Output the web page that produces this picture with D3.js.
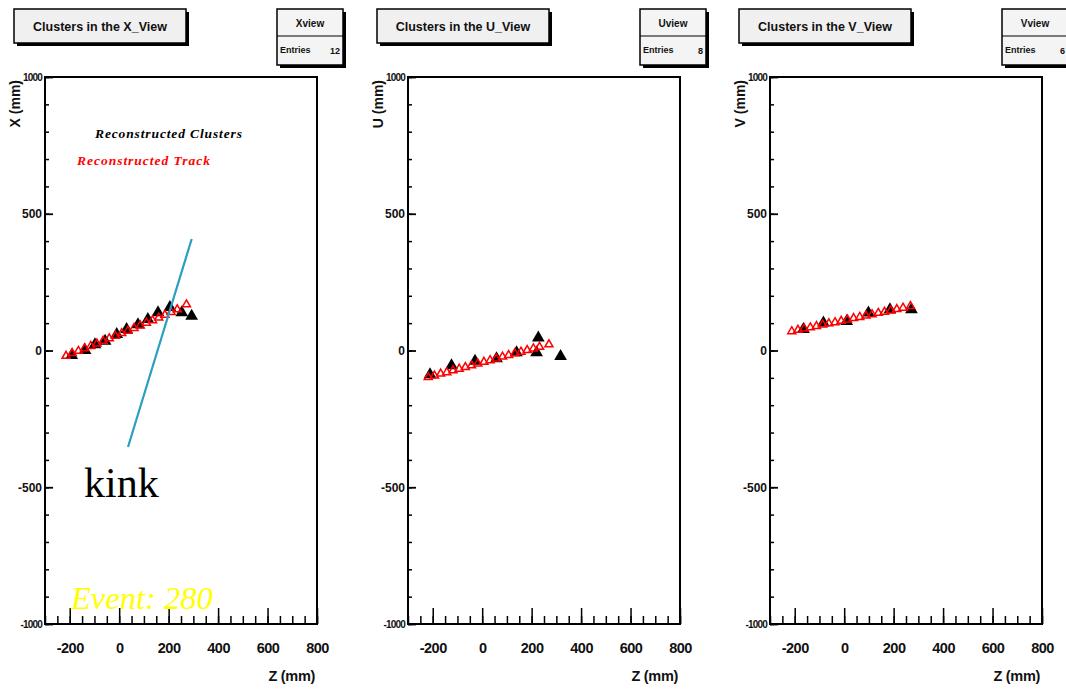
<!DOCTYPE html>
<html>
<head>
<meta charset="utf-8">
<script src="https://cdn.jsdelivr.net/npm/d3@7"></script>
<style>
  html, body { margin: 0; padding: 0; background: #fff; }
  svg { display: block; }
</style>
</head>
<body>
<svg id="chart" width="1066" height="689"></svg>
<script>
// ---------------- data ----------------
const views = ["X", "U", "V"];
const zTicks = [-200, 0, 200, 400, 600, 800];
const yTicks = [-1000, -500, 0, 500, 1000];

// X view
const xClusterZ = [-192, -138, -98, -57, -10, 30, 76, 116, 157, 205, 253, 293];
const xClusterV = [-18, 1, 22, 34, 59, 77, 95, 114, 139, 158, 139, 126];
const xTrackZ = [-215, -190, -165, -140, -115, -90, -65, -40, -15, 10, 35, 60, 85, 110, 135, 160, 185, 210, 235, 272];
const xTrackV = [-20, -10, -2, 8, 16, 25, 35, 44, 53, 63, 72, 82, 91, 101, 110, 120, 130, 140, 150, 168];

// U view
const uClusterZ = [-211, -124, -29, 58, 139, 227, 220, 317];
const uClusterV = [-88, -55, -39, -30, -8, 46, -8, -21];
const uTrackZ = [-218, -193, -168, -143, -118, -93, -68, -43, -18, 7, 32, 57, 82, 107, 132, 157, 182, 207, 232, 270];
const uTrackV = [-98, -92, -85, -80, -73, -67, -61, -55, -48, -42, -36, -30, -23, -17, -11, -5, 1, 7, 13, 22];

// V view
const vClusterZ = [-165, -84, 10, 98, 185, 272];
const vClusterV = [77, 101, 107, 138, 150, 150];
const vTrackZ = [-212, -187, -162, -137, -112, -87, -62, -37, -12, 13, 38, 63, 88, 113, 138, 163, 188, 213, 238, 268];
const vTrackV = [70, 75, 80, 84, 89, 94, 99, 103, 108, 113, 118, 122, 127, 132, 137, 141, 146, 151, 156, 162];

const clustersZ = [xClusterZ, uClusterZ, vClusterZ];
const clustersV = [xClusterV, uClusterV, vClusterV];
const trackZ = [xTrackZ, uTrackZ, vTrackZ];
const trackV = [xTrackV, uTrackV, vTrackV];

const legendLabels = ["Reconstructed Clusters", "Reconstructed Track"];
const eventLabel = "Event: 280";
const annotationLabel = "kink";

// ---------------- layout ----------------
const svg = d3.select("#chart");
const frameLefts = [45, 408, 770];
const frameW = 272;
const frameTop = 77, frameBottom = 624;
const SANS = "'Liberation Sans', Arial, Helvetica, sans-serif";
const SERIF = "'Liberation Serif', 'Times New Roman', serif";
const fmt = d => String(d);

views.forEach((v, i) => {
  const L = frameLefts[i];
  const g = svg.append("g");
  const x = d3.scaleLinear().domain([-300, 800]).range([L, L + frameW]);
  const y = d3.scaleLinear().domain([-1000, 1000]).range([frameBottom, frameTop]);

  // title box with shadow
  const tx = L - 31, ty = 9, tw = 172, th = 34;
  g.append("rect").attr("x", tx + 3).attr("y", ty + 3).attr("width", tw).attr("height", th).attr("fill", "#000");
  g.append("rect").attr("x", tx).attr("y", ty).attr("width", tw).attr("height", th)
    .attr("fill", "#f0f0f0").attr("stroke", "#000").attr("stroke-width", 1.5);
  g.append("text").attr("x", tx + tw / 2).attr("y", ty + 22).attr("text-anchor", "middle")
    .attr("font-family", SANS).attr("font-weight", "bold").attr("font-size", 12.5)
    .attr("fill", "#111").text(`Clusters in the ${v}_View`);

  // stats box with shadow
  const sx = L + 232, sy = 9, sw = 66, sh = 56;
  g.append("rect").attr("x", sx + 3).attr("y", sy + 3).attr("width", sw).attr("height", sh).attr("fill", "#000");
  g.append("rect").attr("x", sx).attr("y", sy).attr("width", sw).attr("height", sh)
    .attr("fill", "#f4f4f4").attr("stroke", "#000").attr("stroke-width", 1.5);
  g.append("line").attr("x1", sx).attr("x2", sx + sw).attr("y1", sy + 27).attr("y2", sy + 27)
    .attr("stroke", "#000").attr("stroke-width", 1.2);
  g.append("text").attr("x", sx + sw / 2).attr("y", sy + 18).attr("text-anchor", "middle")
    .attr("font-family", SANS).attr("font-weight", "bold").attr("font-size", 10).attr("fill", "#111")
    .text(`${v}view`);
  g.append("text").attr("x", sx + 3).attr("y", sy + 44)
    .attr("font-family", SANS).attr("font-weight", "bold").attr("font-size", 9).attr("fill", "#111")
    .text("Entries");
  g.append("text").attr("x", sx + sw - 3).attr("y", sy + 45).attr("text-anchor", "end")
    .attr("font-family", SANS).attr("font-weight", "bold").attr("font-size", 9).attr("fill", "#111")
    .text(clustersZ[i].length);

  // frame
  g.append("rect").attr("x", L).attr("y", frameTop).attr("width", frameW).attr("height", frameBottom - frameTop)
    .attr("fill", "none").attr("stroke", "#000").attr("stroke-width", 2);

  // y axis (ticks inward)
  const yMinor = d3.range(-1000, 1001, 100);
  g.append("g").attr("transform", `translate(${L},0)`)
    .call(d3.axisLeft(y).tickValues(yMinor).tickSize(-4).tickFormat(""))
    .call(a => a.select(".domain").remove())
    .call(a => a.selectAll("line").attr("stroke-width", 1.5));
  const ya = g.append("g").attr("transform", `translate(${L},0)`)
    .call(d3.axisLeft(y).tickValues(yTicks).tickSize(-8).tickPadding(3).tickFormat(fmt))
    .call(a => a.select(".domain").remove());
  ya.selectAll("line").attr("stroke-width", 1.8);
  ya.selectAll("text")
    .attr("font-family", SANS).attr("font-weight", "bold")
    .attr("font-size", d => Math.abs(d) >= 1000 ? 10 : 12)
    .attr("letter-spacing", d => Math.abs(d) >= 1000 ? -0.8 : 0)
    .attr("fill", "#111");

  // x axis (ticks inward)
  const zMinor = d3.range(-300, 801, 50);
  g.append("g").attr("transform", `translate(0,${frameBottom})`)
    .call(d3.axisBottom(x).tickValues(zMinor).tickSize(-8).tickFormat(""))
    .call(a => a.select(".domain").remove())
    .call(a => a.selectAll("line").attr("stroke-width", 1.5));
  const xa = g.append("g").attr("transform", `translate(0,${frameBottom})`)
    .call(d3.axisBottom(x).tickValues(zTicks).tickSize(-16).tickPadding(19).tickFormat(fmt))
    .call(a => a.select(".domain").remove());
  xa.selectAll("line").attr("stroke-width", 1.5);
  xa.selectAll("text")
    .attr("font-family", SANS).attr("font-weight", "bold").attr("font-size", 14.5)
    .attr("letter-spacing", -0.5).attr("fill", "#111");

  // axis titles
  g.append("text").attr("x", L + frameW - 2).attr("y", 681).attr("text-anchor", "end")
    .attr("font-family", SANS).attr("font-weight", "bold").attr("font-size", 14.5)
    .attr("letter-spacing", -0.3).attr("fill", "#111").text("Z (mm)");
  g.append("text").attr("transform", `translate(${L - 25},80) rotate(-90)`).attr("text-anchor", "end")
    .attr("font-family", SANS).attr("font-weight", "bold").attr("font-size", 14)
    .attr("fill", "#111").text(`${v} (mm)`);

  // clusters (filled black triangles)
  const tri = d3.symbol().type(d3.symbolTriangle);
  g.append("g").selectAll("path").data(clustersZ[i].map((z, k) => [z, clustersV[i][k]]))
    .join("path")
    .attr("transform", d => `translate(${x(d[0])},${y(d[1])})`)
    .attr("d", tri.size(70)())
    .attr("fill", "#000");

  // track (open red triangles)
  g.append("g").selectAll("path").data(trackZ[i].map((z, k) => [z, trackV[i][k]]))
    .join("path")
    .attr("transform", d => `translate(${x(d[0])},${y(d[1])})`)
    .attr("d", tri.size(28)())
    .attr("fill", "none").attr("stroke", "#ff0000").attr("stroke-width", 1.5);

  if (i === 0) {
    // legend
    g.append("text").attr("x", 95).attr("y", 138)
      .attr("font-family", SERIF).attr("font-style", "italic").attr("font-weight", "bold")
      .attr("font-size", 13.5).attr("textLength", 147).attr("fill", "#000").text(legendLabels[0]);
    g.append("text").attr("x", 77).attr("y", 165)
      .attr("font-family", SERIF).attr("font-style", "italic").attr("font-weight", "bold")
      .attr("font-size", 13.5).attr("textLength", 133).attr("fill", "#ff0000").text(legendLabels[1]);
    // event label
    g.append("text").attr("x", 71).attr("y", 609)
      .attr("font-family", SERIF).attr("font-style", "italic").attr("font-size", 32.5)
      .attr("fill", "#ffff00").text(eventLabel);
    // annotation
    g.append("line").attr("x1", 191.7).attr("y1", 239).attr("x2", 128).attr("y2", 447)
      .attr("stroke", "#2a9fbf").attr("stroke-width", 2.2);
    g.append("text").attr("x", 84).attr("y", 497)
      .attr("font-family", SERIF).attr("font-size", 42).attr("fill", "#000").text(annotationLabel);
  }
});
</script>
</body>
</html>
